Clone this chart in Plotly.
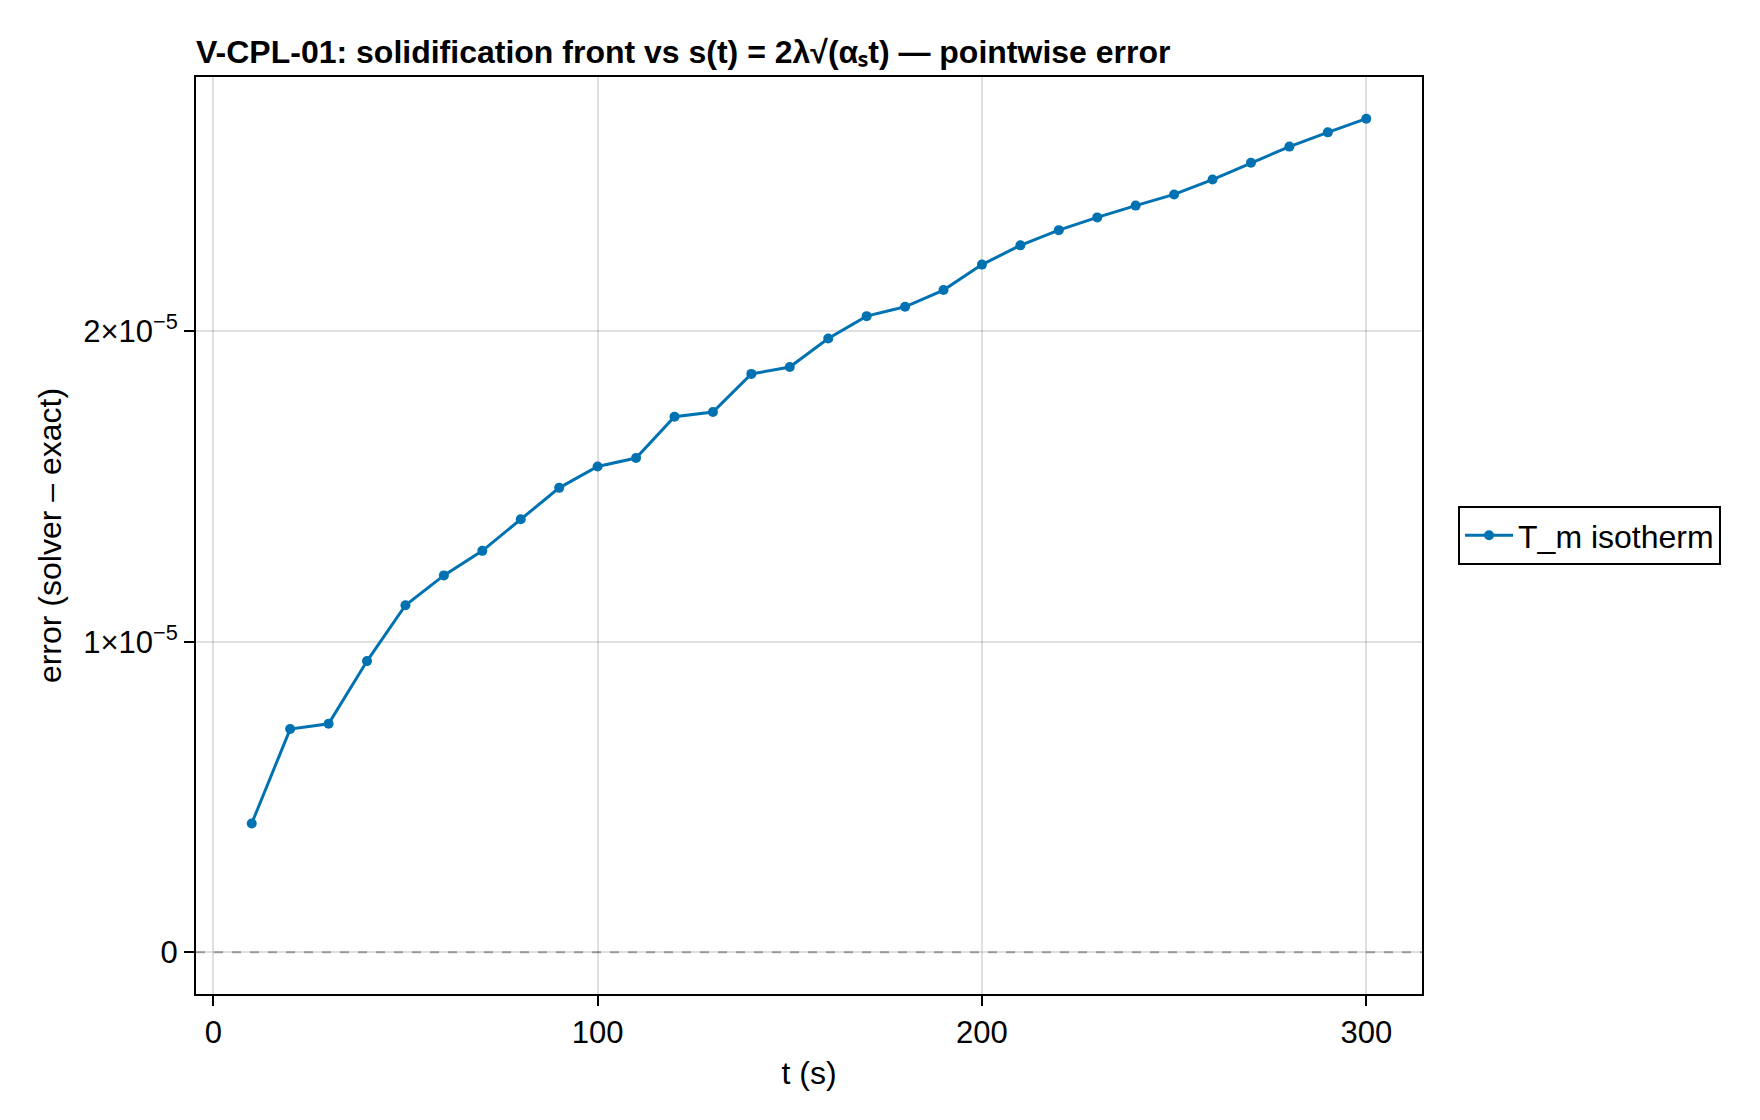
import plotly.graph_objects as go

# ---- data ----
t_s = [10, 20, 30, 40, 50, 60, 70, 80, 90, 100,
       110, 120, 130, 140, 150, 160, 170, 180, 190, 200,
       210, 220, 230, 240, 250, 260, 270, 280, 290, 300]
err_e6 = [4.15, 7.19, 7.36, 9.38, 11.18, 12.14, 12.93, 13.95, 14.96, 15.65,
          15.92, 17.25, 17.40, 18.63, 18.85, 19.77, 20.49, 20.79, 21.33, 22.15,
          22.77, 23.26, 23.67, 24.05, 24.41, 24.89, 25.43, 25.95, 26.41, 26.85]
error = [v * 1e-6 for v in err_e6]
series_name = "T_m isotherm"
y_tickvals = [0, 1e-5, 2e-5]
y_ticktext = ["0", "1×10<sup>−5</sup>", "2×10<sup>−5</sup>"]
x_tickvals = [0, 100, 200, 300]

title = "V-CPL-01: solidification front vs s(t) = 2λ√(αₛt) — pointwise error"

BLUE = "#0072B2"
FONT = "Liberation Sans"

# Makie-like 5% auto-limits
xmin, xmax = min(t_s), max(t_s)
xpad = 0.05 * (xmax - xmin)
ymin, ymax = min(0.0, min(error)), max(error)
ypad = 0.05 * (ymax - ymin)

fig = go.Figure()
fig.add_trace(go.Scatter(
    x=t_s, y=error, mode="lines+markers", name=series_name,
    line=dict(color=BLUE, width=3),
    marker=dict(color=BLUE, size=10),
))

# dashed zero line
fig.add_shape(type="line", xref="x domain", yref="y", x0=0, x1=1, y0=0, y1=0,
              line=dict(color="rgba(0,0,0,0.32)", width=2, dash="dash"), layer="above")

axis_common = dict(
    showline=True, linecolor="black", linewidth=2, mirror=True,
    ticks="outside", ticklen=10, tickwidth=2, tickcolor="black",
    showgrid=True, gridcolor="rgba(0,0,0,0.12)", gridwidth=2,
    zeroline=False,
    tickfont=dict(family=FONT, size=31, color="black"),
    title_font=dict(family=FONT, size=32, color="black"),
)

fig.update_layout(
    width=1760, height=1120,
    paper_bgcolor="white", plot_bgcolor="white",
    margin=dict(l=196, r=338, t=77, b=126),
    showlegend=True,
    title=dict(text="<b>" + title + "</b>", x=196 / 1760, xanchor="left", xref="container",
               y=1 - 52 / 1120, yanchor="middle", yref="container",
               font=dict(family=FONT, size=32, color="black")),
    xaxis=dict(range=[xmin - xpad, xmax + xpad], tickvals=x_tickvals,
               title=dict(text="t (s)", standoff=12), **axis_common),
    yaxis=dict(range=[ymin - ypad, ymax + ypad], tickvals=y_tickvals, ticktext=y_ticktext,
               title=dict(text="error (solver – exact)", standoff=12), **axis_common),
    legend=dict(x=1.0294, xanchor="left", y=0.5, yanchor="middle",
                bordercolor="black", borderwidth=2, bgcolor="white",
                itemwidth=48,
                font=dict(family=FONT, size=32, color="black")),
)

fig.write_html("out.html")
